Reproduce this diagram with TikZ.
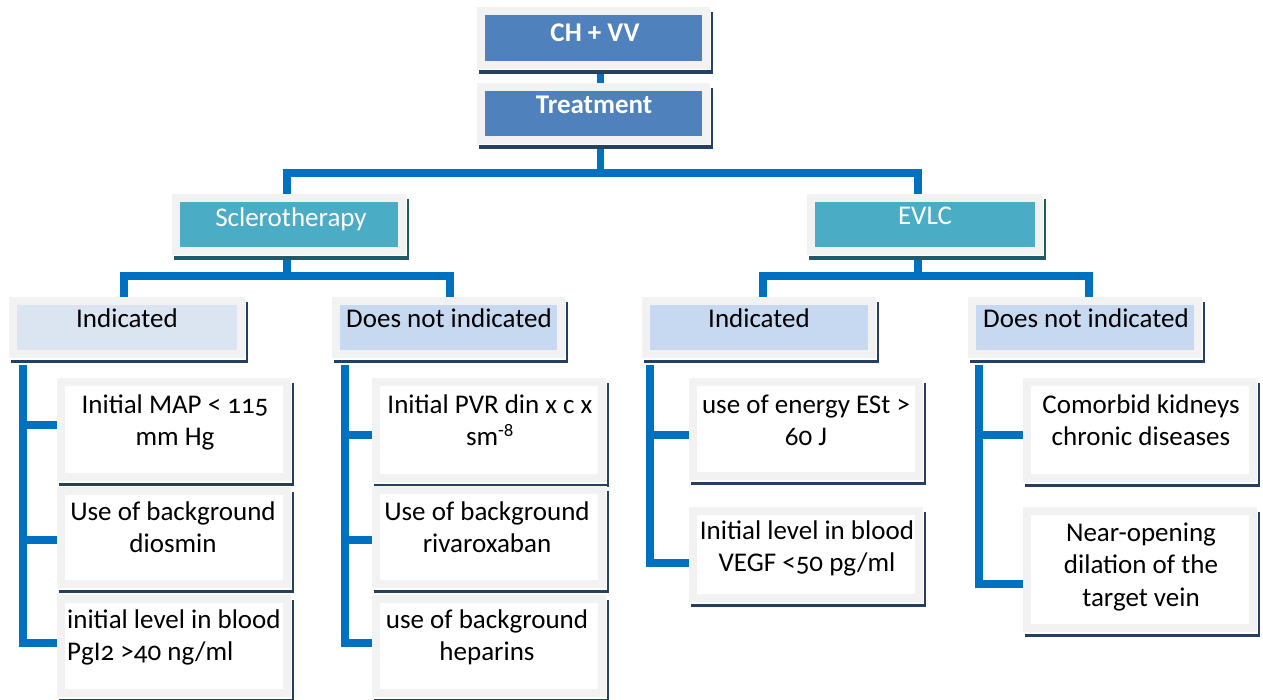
\documentclass[tikz,border=0pt]{standalone}
\usepackage{fontspec}
\setmainfont{Carlito}[Numbers=OldStyle]
\usetikzlibrary{backgrounds,calc}
\definecolor{topblue}{HTML}{4F81BD}
\definecolor{tealbox}{HTML}{4BACC6}
\definecolor{lvltwo}{HTML}{C6D9F1}
\definecolor{lvltwolight}{HTML}{DBE5F1}
\definecolor{framegray}{HTML}{F2F2F2}
\definecolor{connblue}{HTML}{0070C0}
\definecolor{navyshadow}{HTML}{243F60}
\definecolor{tealshadow}{HTML}{215968}
\newcommand\pbox[7]{%
  \fill[#7] (#2+2,#3+5) rectangle (#4+3,#5+5);
  \fill[white] (#2,#3) rectangle (#4+1,#5+1.5);
  \node[frame, fill=#6, minimum width={(#4-#2-8)*1pt}, minimum height={(#5-#3-8)*1pt}] (#1) at ({(#2+#4)/2},{(#3+#5)/2}) {};
}
\tikzset{
  frame/.style={rectangle, draw=framegray, line width=8pt, inner sep=0pt},
  conn/.style={draw=connblue, line width=7.5pt, line join=miter},
  txt/.style={inner sep=0pt, align=center, anchor=base, font=\fontsize{27}{32.5}\selectfont},
  wtxt/.style={txt, text=white},
}
\begin{document}
\begin{tikzpicture}[x=1pt,y=-1pt]
\useasboundingbox (0,0) rectangle (1263,700);
% boxes
\pbox{ch}{477}{7}{710}{69}{topblue}{navyshadow}
\pbox{treat}{477}{83}{710}{144}{topblue}{navyshadow}
\pbox{scl}{172}{194}{406}{255}{tealbox}{tealshadow}
\pbox{evlc}{807}{194}{1043}{255}{tealbox}{tealshadow}
\pbox{lind}{9}{297}{245}{358}{lvltwolight}{navyshadow}
\pbox{ldni}{332}{297}{565}{358}{lvltwo}{navyshadow}
\pbox{rind}{642}{297}{876}{358}{lvltwo}{navyshadow}
\pbox{rdni}{968}{297}{1202}{358}{lvltwo}{navyshadow}
\pbox{L1}{57}{378}{291}{481}{white}{navyshadow}
\pbox{L2}{57}{487}{291}{588}{white}{navyshadow}
\pbox{L3}{57}{595}{291}{697}{white}{navyshadow}
\pbox{M1}{372}{378}{606}{482}{white}{navyshadow}
\pbox{M2}{372}{486}{606}{588}{white}{navyshadow}
\pbox{M3}{372}{595}{606}{697}{white}{navyshadow}
\pbox{R1}{689}{378}{923}{480}{white}{navyshadow}
\pbox{R2}{689}{507}{923}{602}{white}{navyshadow}
\pbox{D1}{1023}{378}{1257}{482}{white}{navyshadow}
\pbox{D2}{1023}{507}{1257}{632}{white}{navyshadow}
% texts (base anchor = baseline of the last line)
\node[wtxt, font=\fontsize{27}{32.5}\selectfont\bfseries] (tch) at (595,42) {CH + VV};
\node[wtxt, font=\fontsize{27}{32.5}\selectfont\bfseries] (ttreat) at (594,114) {Treatment};
\node[wtxt] (tscl) at (291,227) {Sclerotherapy};
\node[wtxt] (tevlc) at (925,225) {EVLC};
\node[txt] (tlind) at (127,327) {Indicated};
\node[txt] (tldni) at (449,327) {Does not indicated};
\node[txt] (trind) at (759,327) {Indicated};
\node[txt] (trdni) at (1086,327) {Does not indicated};
\node[txt] (tL1) at (175,445.5) {Initial MAP < 115\\mm Hg};
\node[txt] (tL2) at (173,552.5) {Use of background\\diosmin};
\node[txt, align=left, anchor=base west] (tL3) at (67,660.5) {initial level in blood\\PgI2 >40 ng/ml};
\node[txt] (tM1) at (490,445.5) {Initial PVR din x c x\\sm\textsuperscript{-8}};
\node[txt] (tM2) at (487,552.5) {Use of background\\rivaroxaban};
\node[txt] (tM3) at (487,660.5) {use of background\\heparins};
\node[txt] (tR1) at (806,445.5) {use of energy ESt >\\60 J};
\node[txt] (tR2) at (807,571.5) {Initial level in blood\\VEGF <50 pg/ml};
\node[txt] (tD1) at (1141,445.5) {Comorbid kidneys\\chronic diseases};
\node[txt] (tD2) at (1141,606) {Near-opening\\dilation of the\\target vein};
% connectors
\begin{pgfonlayer}{background}
\fill[white] (0,0) rectangle (1263,700);
\draw[conn] ([xshift=7pt]ch.south) -- ([xshift=7pt]treat.north);
\draw[conn] ([xshift=7pt]treat.south) -- ++(0,29);
\draw[conn] ([xshift=-2pt]scl.north) -- ++(0,-21) -| ([xshift=-7pt]evlc.north);
\draw[conn] ([xshift=-2pt]scl.south) -- ++(0,21);
\draw[conn] ([xshift=-3pt]lind.north) -- ++(0,-21) -| ([xshift=1.5pt]ldni.north);
\draw[conn] ([xshift=-7pt]evlc.south) -- ++(0,21);
\draw[conn] ([xshift=4pt]rind.north) -- ++(0,-21) -| ([xshift=4pt]rdni.north);
\coordinate (jL) at ($(lind.south west)+(14,7)$);
\coordinate (jM) at ($(ldni.south west)+(13,7)$);
\coordinate (jR) at ($(rind.south west)+(8,7)$);
\coordinate (jD) at ($(rdni.south west)+(11,7)$);
\foreach \b/\dy in {L1/-4.5, L2/2.5, L3/-3} \draw[conn] (\b.west) ++(0,\dy) -| (jL);
\foreach \b/\dy in {M1/5, M2/3, M3/-3} \draw[conn] (\b.west) ++(0,\dy) -| (jM);
\foreach \b/\dy in {R1/6, R2/8.5} \draw[conn] (\b.west) ++(0,\dy) -| (jR);
\foreach \b/\dy in {D1/5, D2/14.5} \draw[conn] (\b.west) ++(0,\dy) -| (jD);
\end{pgfonlayer}
\end{tikzpicture}
\end{document}
